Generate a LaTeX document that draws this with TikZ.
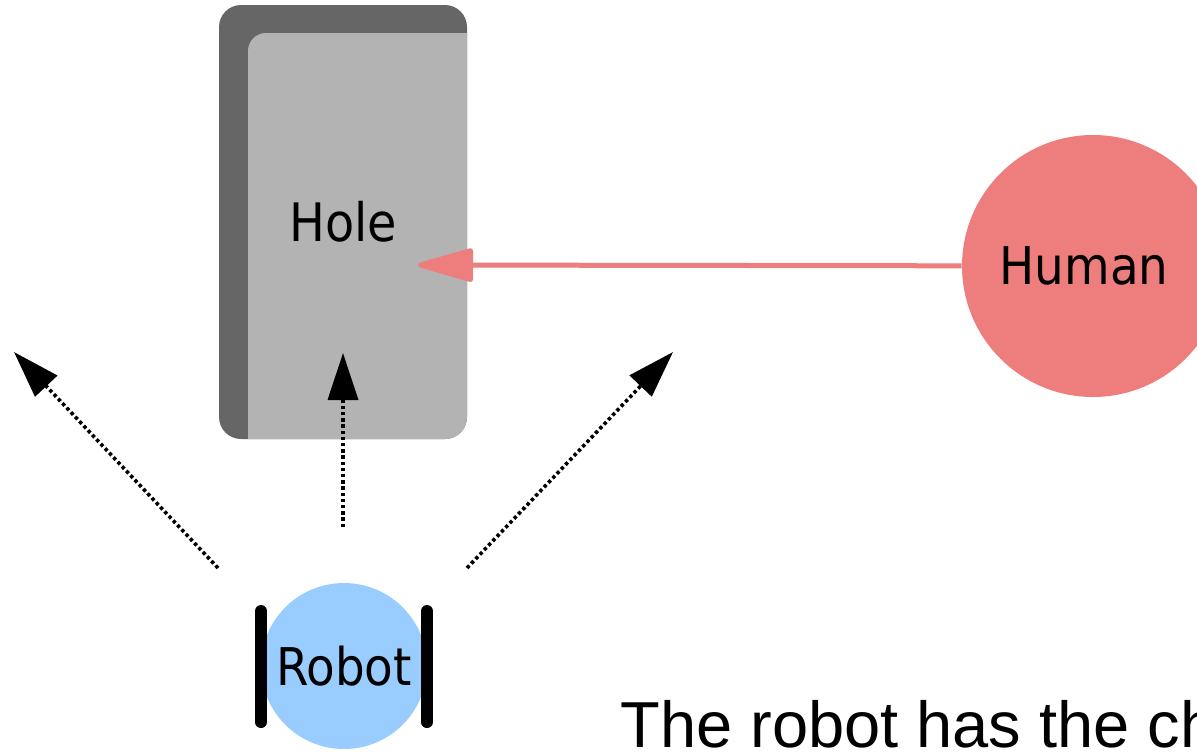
\documentclass[tikz,border=0pt]{standalone}
\usepackage{fontspec}
\setmainfont{DejaVu Sans Condensed}
\newfontfamily\notefont{Liberation Sans}
\usetikzlibrary{arrows.meta,calc}

\definecolor{holedark}{HTML}{666666}
\definecolor{holelight}{HTML}{B3B3B3}
\definecolor{humanred}{HTML}{EE7D7D}
\definecolor{robotblue}{HTML}{99CCFF}

\begin{document}
\begin{tikzpicture}[x=0.5pt,y=-0.5pt]
\tikzstyle{every node}=[inner sep=0pt]
\tikzstyle{hole}=[rectangle,rounded corners=11pt,fill=holedark,
  minimum width=124pt,minimum height=217pt,
  font=\fontsize{26.5}{30}\selectfont,
  path picture={\fill[holelight,rounded corners=9pt]
    ($(path picture bounding box.north west)+(14.5pt,-14pt)$) rectangle
    ($(path picture bounding box.south east)+(20pt,-20pt)$);}]
\tikzstyle{human}=[circle,fill=humanred,minimum size=131pt,
  font=\fontsize{26}{30}\selectfont]
\tikzstyle{robot}=[circle,fill=robotblue,minimum size=83pt,
  font=\fontsize{26}{30}\selectfont]
\tikzstyle{wheel}=[line width=6pt,line cap=round]
\tikzstyle{pull}=[draw,-{Triangle[length=31pt,width=17pt,round]},
  line width=2.5pt,humanred]
\tikzstyle{look}=[draw,-{Triangle[length=23.5pt,width=15pt]},
  line width=1.8pt,dash pattern=on 1.7pt off 1.4pt]
\useasboundingbox (0,0) rectangle (1197,751);
\clip (0,0) rectangle (1197,751);
 % the hole, the human and the robot
 \node[hole]  (hole)  at (343,222)  {Hole};
 \node[human] (human) at (1093,266) {Human\kern9pt};
 \node[robot] (robot) at (344,666)  {Robot};
 \draw[wheel] ($(robot)+(-83,-55)$) -- ++(0,111);
 \draw[wheel] ($(robot)+( 83,-55)$) -- ++(0,111);
 % free ends of the arrows
 \coordinate (ht) at (418,265);
 \coordinate (ls) at (218,568);
 \coordinate (lt) at (14,352);
 \coordinate (ms) at (343,527);
 \coordinate (mt) at (343,353);
 \coordinate (rs) at (467,568);
 \coordinate (rt) at (673,352);
 \path
 (human) edge[pull] (ht)
 ;
 \path
 (ls) edge[look] (lt)
 (ms) edge[look] (mt)
 (rs) edge[look] (rt)
 ;
 \node[anchor=base west,font=\notefont\fontsize{32.5}{36}\selectfont]
 (note) at (620,747) {The robot has the ch};
\end{tikzpicture}
\end{document}
